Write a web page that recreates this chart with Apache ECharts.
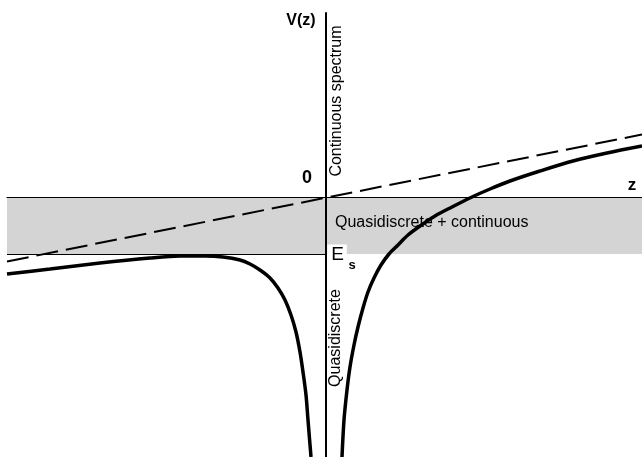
<!DOCTYPE html>
<html>
<head>
<meta charset="utf-8">
<script src="https://cdn.jsdelivr.net/npm/echarts@6/dist/echarts.min.js"></script>
<style>
  html, body { margin: 0; padding: 0; background: #fff; }
  #chart { width: 642px; height: 457px; }
</style>
</head>
<body>
<div id="chart"></div>
<script>
// z and V(z) in arbitrary units
var zMin = -3.19, zMax = 3.16
var vMin = -2.60, vMax = 1.84
var Es = -0.57

// left branch of V(z) (z < 0)
var leftBranch = [
  [-3.19, -0.77], [-2.76, -0.72], [-2.26, -0.66], [-1.76, -0.61],
  [-1.46, -0.59], [-1.21, -0.59], [-1.03, -0.60], [-0.86, -0.63],
  [-0.76, -0.67], [-0.66, -0.73], [-0.56, -0.81], [-0.48, -0.91],
  [-0.41, -1.03], [-0.35, -1.18], [-0.30, -1.35], [-0.26, -1.55],
  [-0.23, -1.75], [-0.20, -1.98], [-0.18, -2.23], [-0.15, -2.60]
]
// right branch of V(z) (z > 0)
var rightBranch = [
  [0.16, -2.60], [0.18, -2.23], [0.21, -1.93], [0.24, -1.70],
  [0.28, -1.48], [0.32, -1.30], [0.37, -1.11], [0.42, -0.95],
  [0.48, -0.81], [0.55, -0.68], [0.63, -0.57], [0.72, -0.48],
  [0.82, -0.38], [0.94, -0.29], [1.09, -0.19], [1.26, -0.10],
  [1.46, 0.00], [1.64, 0.08], [1.84, 0.16], [2.14, 0.26],
  [2.47, 0.36], [2.81, 0.44], [3.16, 0.51]
]
// dashed field line
var fieldLine = [[-3.19, -0.645], [3.16, 0.625]]

var FONT = 'Liberation Sans, Arial, sans-serif'
var chart = echarts.init(document.getElementById('chart'))
var txt = function (x, y, text, size, weight, rot, align) {
  return {
    type: 'text', x: x, y: y, z: 20, rotation: rot || 0,
    style: {
      text: text, fill: '#000', fontSize: size, fontWeight: weight || 'normal',
      fontFamily: FONT, align: align || 'center', verticalAlign: 'middle'
    }
  }
}
var eLabel = txt(337, 255, 'E', 19)
eLabel.style.backgroundColor = '#fff'
eLabel.style.padding = [2, 3, 0, 4]

var option = {
  animation: false,
  grid: { left: 7, right: 0, top: 13, bottom: 0 },
  xAxis: {
    type: 'value', min: zMin, max: zMax, z: 10,
    axisLine: { show: true, onZero: true, lineStyle: { color: '#000', width: 1.2 } },
    axisTick: { show: false }, axisLabel: { show: false }, splitLine: { show: false }
  },
  yAxis: {
    type: 'value', min: vMin, max: vMax, z: 10,
    axisLine: { show: true, onZero: true, lineStyle: { color: '#000', width: 2 } },
    axisTick: { show: false }, axisLabel: { show: false }, splitLine: { show: false }
  },
  series: [
    {
      type: 'line', data: [], z: 1,
      markArea: {
        silent: true,
        itemStyle: { color: '#d4d4d4' },
        data: [[{ yAxis: 0 }, { yAxis: Es }]]
      },
      markLine: {
        silent: true, symbol: 'none', label: { show: false },
        lineStyle: { color: '#000', width: 1.2, type: 'solid' },
        data: [[{ coord: [zMin, Es] }, { coord: [0, Es] }]]
      }
    },
    {
      type: 'line', data: fieldLine, showSymbol: false, z: 3,
      lineStyle: { color: '#000', width: 2, type: [22, 8] }
    },
    {
      type: 'line', data: leftBranch, showSymbol: false, smooth: 0.3, z: 4,
      lineStyle: { color: '#000', width: 3.5 }
    },
    {
      type: 'line', data: rightBranch, showSymbol: false, smooth: 0.3, z: 4,
      lineStyle: { color: '#000', width: 3.5 }
    }
  ],
  graphic: [
    eLabel,
    txt(301, 21, 'V(z)', 16, 'bold'),
    txt(307, 178, '0', 18, 'bold'),
    txt(632, 185, 'z', 17, 'bold'),
    txt(337, 101, 'Continuous spectrum', 16, 'normal', Math.PI / 2),
    txt(336, 338, 'Quasidiscrete', 16, 'normal', Math.PI / 2),
    txt(335, 223, 'Quasidiscrete + continuous', 16, 'normal', 0, 'left'),
    txt(352, 265, 's', 13, 'bold')
  ]
}
chart.setOption(option)
</script>
</body>
</html>
